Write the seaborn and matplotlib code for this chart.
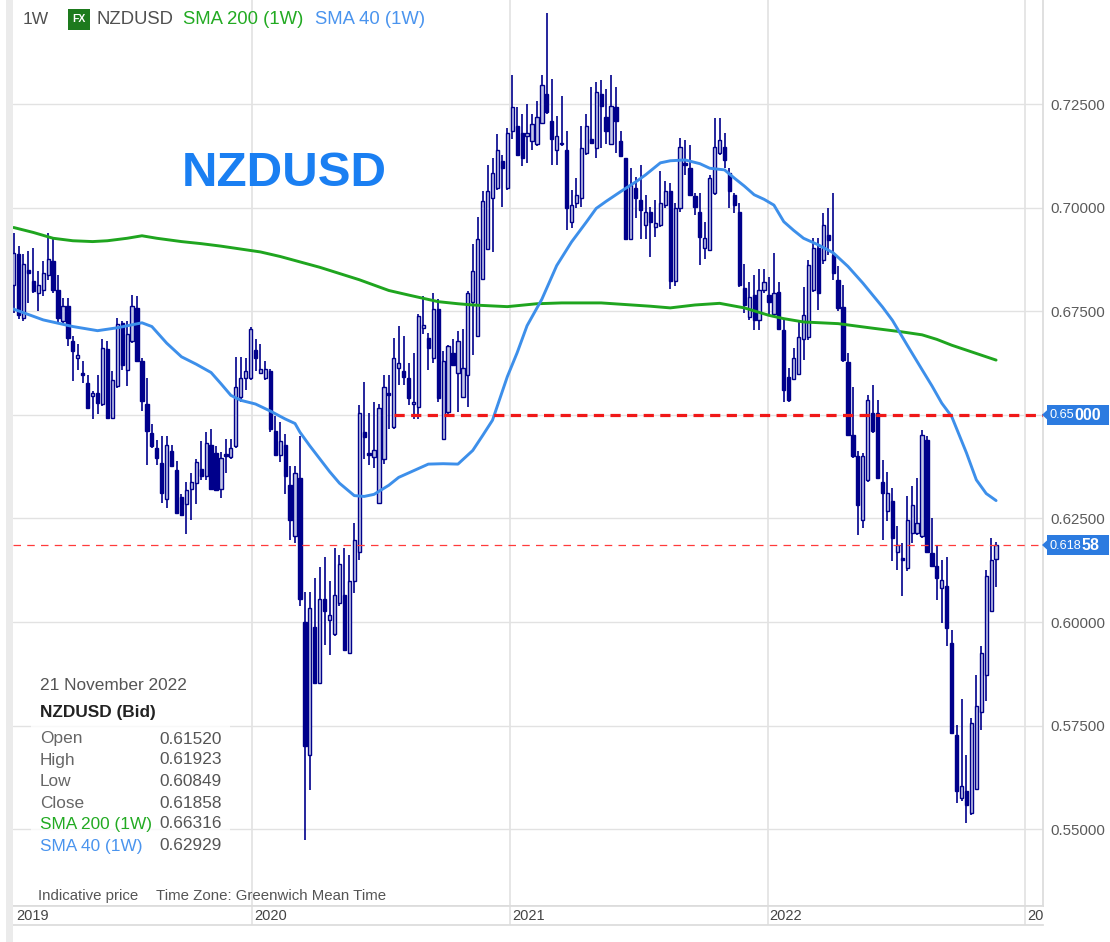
import numpy as np
import pandas as pd
import matplotlib
matplotlib.use("Agg")
import matplotlib.pyplot as plt
import matplotlib.dates as mdates
from matplotlib.patches import Rectangle, Polygon
import seaborn as sns

# ---------------- data ----------------
first_week = "2019-01-28"
opens = [
0.6814, 0.6887, 0.6734, 0.6850, 0.6822, 0.6794, 0.6802, 0.6838, 0.6871, 0.6802,
0.6726, 0.6762, 0.6678, 0.6637, 0.6601, 0.6577, 0.6545, 0.6553, 0.6525, 0.6658,
0.6493, 0.6569, 0.6722, 0.6609, 0.6678, 0.6758, 0.6629, 0.6525, 0.6457, 0.6420,
0.6384, 0.6296, 0.6412, 0.6368, 0.6301, 0.6284, 0.6322, 0.6335, 0.6369, 0.6352,
0.6428, 0.6407, 0.6320, 0.6404, 0.6399, 0.6424, 0.6543, 0.6589, 0.6589, 0.6657,
0.6602, 0.6589, 0.6606, 0.6462, 0.6403, 0.6428, 0.6331, 0.6208, 0.6348, 0.6000,
0.5679, 0.5988, 0.5852, 0.6055, 0.6005, 0.5971, 0.6047, 0.6064, 0.5924, 0.6098,
0.6168, 0.6458, 0.6407, 0.6398, 0.6287, 0.6393, 0.6552, 0.6470, 0.6613, 0.6605,
0.6588, 0.6527, 0.6519, 0.6710, 0.6686, 0.6637, 0.6755, 0.6442, 0.6507, 0.6649,
0.6601, 0.6544, 0.6596, 0.6771, 0.6690, 0.6828, 0.6901, 0.7023, 0.7047, 0.7112,
0.7047, 0.7185, 0.7197, 0.7181, 0.7173, 0.7161, 0.7153, 0.7205, 0.7274, 0.7209,
0.7140, 0.7153, 0.7140, 0.6966, 0.7010, 0.7023, 0.7132, 0.7165, 0.7144, 0.7274,
0.7218, 0.7153, 0.7242, 0.7161, 0.7120, 0.6925, 0.7047, 0.7019, 0.6958, 0.6990,
0.6954, 0.6958, 0.7006, 0.7039, 0.6824, 0.6998, 0.7107, 0.7095, 0.7027, 0.6990,
0.6902, 0.6898, 0.7035, 0.7131, 0.7147, 0.7083, 0.7031, 0.6990, 0.6805, 0.6736,
0.6789, 0.6728, 0.6801, 0.6789, 0.6744, 0.6797, 0.6704, 0.6591, 0.6587, 0.6599,
0.6684, 0.6688, 0.6801, 0.6902, 0.6873, 0.6934, 0.6886, 0.6825, 0.6760, 0.6628,
0.6452, 0.6400, 0.6247, 0.6343, 0.6504, 0.6504, 0.6339, 0.6267, 0.6291, 0.6170,
0.6154, 0.6130, 0.6215, 0.6215, 0.6207, 0.6440, 0.6166, 0.6134, 0.6082, 0.6086,
0.5949, 0.5728, 0.5575, 0.5591, 0.5539, 0.5596, 0.5784, 0.5873, 0.6026, 0.6152,
]
highs = [
0.6939, 0.6907, 0.6887, 0.6895, 0.6903, 0.6846, 0.6871, 0.6939, 0.6927, 0.6838,
0.6782, 0.6782, 0.6690, 0.6670, 0.6629, 0.6597, 0.6557, 0.6597, 0.6682, 0.6678,
0.6605, 0.6734, 0.6726, 0.6726, 0.6790, 0.6786, 0.6637, 0.6589, 0.6477, 0.6440,
0.6449, 0.6449, 0.6428, 0.6388, 0.6310, 0.6339, 0.6360, 0.6394, 0.6437, 0.6458,
0.6466, 0.6424, 0.6410, 0.6441, 0.6441, 0.6640, 0.6640, 0.6636, 0.6712, 0.6682,
0.6670, 0.6631, 0.6610, 0.6496, 0.6483, 0.6454, 0.6377, 0.6377, 0.6450, 0.6072,
0.6072, 0.6106, 0.6132, 0.6157, 0.6098, 0.6178, 0.6161, 0.6178, 0.6161, 0.6239,
0.6523, 0.6580, 0.6504, 0.6532, 0.6527, 0.6596, 0.6596, 0.6686, 0.6714, 0.6690,
0.6625, 0.6650, 0.6743, 0.6787, 0.6698, 0.6795, 0.6779, 0.6653, 0.6669, 0.6682,
0.6702, 0.6706, 0.6799, 0.6913, 0.6978, 0.7039, 0.7104, 0.7120, 0.7177, 0.7128,
0.7193, 0.7319, 0.7242, 0.7226, 0.7250, 0.7226, 0.7258, 0.7319, 0.7469, 0.7311,
0.7222, 0.7270, 0.7185, 0.7043, 0.7071, 0.7197, 0.7226, 0.7291, 0.7303, 0.7307,
0.7287, 0.7319, 0.7291, 0.7185, 0.7120, 0.7096, 0.7075, 0.7104, 0.7031, 0.7002,
0.7019, 0.7088, 0.7063, 0.7059, 0.7010, 0.7168, 0.7164, 0.7152, 0.7035, 0.7035,
0.6966, 0.7079, 0.7216, 0.7216, 0.7180, 0.7095, 0.7035, 0.7010, 0.6865, 0.6821,
0.6837, 0.6853, 0.6853, 0.6833, 0.6890, 0.6821, 0.6728, 0.6612, 0.6660, 0.6724,
0.6809, 0.6873, 0.6926, 0.6926, 0.6986, 0.6998, 0.7035, 0.6860, 0.6813, 0.6648,
0.6568, 0.6412, 0.6408, 0.6548, 0.6572, 0.6536, 0.6391, 0.6363, 0.6323, 0.6231,
0.6190, 0.6303, 0.6327, 0.6347, 0.6464, 0.6448, 0.6251, 0.6186, 0.6150, 0.6158,
0.5981, 0.5752, 0.5813, 0.5680, 0.5768, 0.5873, 0.5941, 0.6126, 0.6203, 0.61923,
]
lows = [
0.6745, 0.6730, 0.6726, 0.6770, 0.6794, 0.6750, 0.6786, 0.6826, 0.6794, 0.6718,
0.6718, 0.6666, 0.6581, 0.6609, 0.6577, 0.6513, 0.6489, 0.6501, 0.6521, 0.6489,
0.6489, 0.6565, 0.6609, 0.6569, 0.6674, 0.6629, 0.6509, 0.6380, 0.6420, 0.6380,
0.6288, 0.6276, 0.6376, 0.6260, 0.6255, 0.6212, 0.6246, 0.6284, 0.6343, 0.6343,
0.6322, 0.6318, 0.6300, 0.6360, 0.6394, 0.6420, 0.6530, 0.6560, 0.6585, 0.6606,
0.6602, 0.6585, 0.6458, 0.6403, 0.6386, 0.6310, 0.6199, 0.6191, 0.6039, 0.5475,
0.5594, 0.5852, 0.5852, 0.5945, 0.5920, 0.5967, 0.6039, 0.5933, 0.5924, 0.6070,
0.6150, 0.6393, 0.6379, 0.6372, 0.6285, 0.6381, 0.6466, 0.6466, 0.6572, 0.6572,
0.6523, 0.6491, 0.6491, 0.6694, 0.6609, 0.6625, 0.6531, 0.6438, 0.6503, 0.6617,
0.6507, 0.6540, 0.6519, 0.6645, 0.6690, 0.6828, 0.6897, 0.6893, 0.7043, 0.7002,
0.7043, 0.7165, 0.7124, 0.7100, 0.7108, 0.7140, 0.7149, 0.7201, 0.7226, 0.7104,
0.7104, 0.7149, 0.6946, 0.6950, 0.6998, 0.7002, 0.7128, 0.7153, 0.7120, 0.7144,
0.7153, 0.7153, 0.7132, 0.7124, 0.6925, 0.6925, 0.6974, 0.6925, 0.6925, 0.6881,
0.6929, 0.6954, 0.6998, 0.6803, 0.6810, 0.6990, 0.7079, 0.7027, 0.6982, 0.6861,
0.6877, 0.6898, 0.7031, 0.7127, 0.7095, 0.6998, 0.6986, 0.6809, 0.6745, 0.6728,
0.6704, 0.6704, 0.6793, 0.6744, 0.6736, 0.6708, 0.6531, 0.6531, 0.6583, 0.6599,
0.6632, 0.6680, 0.6797, 0.6753, 0.6865, 0.6886, 0.6825, 0.6750, 0.6628, 0.6452,
0.6395, 0.6211, 0.6227, 0.6339, 0.6456, 0.6347, 0.6199, 0.6243, 0.6146, 0.6126,
0.6062, 0.6122, 0.6190, 0.6211, 0.6203, 0.6166, 0.6134, 0.6054, 0.5998, 0.5941,
0.5732, 0.5563, 0.5567, 0.5515, 0.5535, 0.5596, 0.5740, 0.5809, 0.6026, 0.60849,
]
closes = [
0.6890, 0.6742, 0.6863, 0.6842, 0.6798, 0.6814, 0.6842, 0.6875, 0.6802, 0.6734,
0.6762, 0.6686, 0.6653, 0.6645, 0.6597, 0.6517, 0.6553, 0.6529, 0.6662, 0.6493,
0.6585, 0.6718, 0.6621, 0.6694, 0.6762, 0.6629, 0.6533, 0.6461, 0.6424, 0.6396,
0.6312, 0.6428, 0.6376, 0.6263, 0.6259, 0.6318, 0.6339, 0.6386, 0.6352, 0.6432,
0.6322, 0.6318, 0.6395, 0.6401, 0.6420, 0.6568, 0.6589, 0.6606, 0.6708, 0.6636,
0.6610, 0.6610, 0.6466, 0.6403, 0.6437, 0.6352, 0.6246, 0.6360, 0.6055, 0.5700,
0.6034, 0.5852, 0.6055, 0.6026, 0.6017, 0.6064, 0.6140, 0.5933, 0.6098, 0.6198,
0.6505, 0.6446, 0.6403, 0.6415, 0.6516, 0.6568, 0.6548, 0.6637, 0.6625, 0.6592,
0.6540, 0.6531, 0.6738, 0.6716, 0.6661, 0.6755, 0.6540, 0.6629, 0.6665, 0.6621,
0.6678, 0.6613, 0.6795, 0.6848, 0.6925, 0.7015, 0.7039, 0.7084, 0.7140, 0.7096,
0.7181, 0.7242, 0.7128, 0.7120, 0.7181, 0.7201, 0.7218, 0.7295, 0.7230, 0.7165,
0.7173, 0.7157, 0.6998, 0.7006, 0.7031, 0.7144, 0.7197, 0.7157, 0.7278, 0.7246,
0.7185, 0.7246, 0.7209, 0.7124, 0.6925, 0.7055, 0.7023, 0.6994, 0.6990, 0.6966,
0.6962, 0.7010, 0.7039, 0.6824, 0.6998, 0.7147, 0.7103, 0.7031, 0.7002, 0.6930,
0.6926, 0.7071, 0.7147, 0.7164, 0.7115, 0.7039, 0.7006, 0.6813, 0.6765, 0.6785,
0.6728, 0.6801, 0.6821, 0.6773, 0.6793, 0.6708, 0.6559, 0.6535, 0.6636, 0.6688,
0.6740, 0.6861, 0.6902, 0.6793, 0.6958, 0.6922, 0.6841, 0.6757, 0.6632, 0.6452,
0.6400, 0.6283, 0.6400, 0.6536, 0.6460, 0.6347, 0.6311, 0.6311, 0.6203, 0.6186,
0.6150, 0.6247, 0.6283, 0.6239, 0.6452, 0.6170, 0.6134, 0.6106, 0.6102, 0.5985,
0.5732, 0.5591, 0.5604, 0.5559, 0.5756, 0.5797, 0.5925, 0.6110, 0.6150, 0.61858,
]

sma40_weeks = [0, 6, 12, 17, 21, 26, 28, 31, 34, 37, 40, 42, 44, 46, 49, 52, 55, 57, 58, 60,
               62, 64, 66, 69, 71, 73, 76, 78, 81, 84, 87, 90, 93, 95, 97, 100, 102, 104,
               107, 110, 113, 116, 118, 120, 123, 126, 128, 131, 133, 136, 139, 141, 144,
               146, 148, 150, 152, 154, 156, 158, 160, 163, 166, 169, 172, 174, 176, 178,
               181, 184, 186, 188, 190, 193, 195, 197, 199]
sma40_vals = [0.6755, 0.6729, 0.6713, 0.6703, 0.6710, 0.6722, 0.6713, 0.6673, 0.6640, 0.6622,
              0.6602, 0.6575, 0.6547, 0.6535, 0.6526, 0.6509, 0.6490, 0.6479, 0.6458, 0.6425,
              0.6394, 0.6363, 0.6335, 0.6305, 0.6303, 0.6308, 0.6330, 0.6349, 0.6365, 0.6381,
              0.6382, 0.6381, 0.6414, 0.6450, 0.6487, 0.6592, 0.6650, 0.6715, 0.6779, 0.6860,
              0.6917, 0.6965, 0.6998, 0.7015, 0.7039, 0.7062, 0.7079, 0.7108, 0.7113, 0.7115,
              0.7106, 0.7095, 0.7091, 0.7071, 0.7052, 0.7031, 0.7020, 0.7006, 0.6966, 0.6945,
              0.6926, 0.6910, 0.6891, 0.6858, 0.6818, 0.6789, 0.6760, 0.6728, 0.6668, 0.6609,
              0.6570, 0.6528, 0.6496, 0.6408, 0.6343, 0.6310, 0.6293]
sma200_weeks = [0, 4, 8, 12, 16, 19, 23, 26, 29, 34, 38, 42, 46, 50, 54, 58, 62, 66, 70, 73,
                76, 80, 86, 90, 93, 100, 106, 111, 119, 124, 129, 133, 138, 143, 148, 153,
                156, 160, 167, 174, 180, 184, 187, 190, 195, 199]
sma200_vals = [0.6952, 0.6940, 0.6926, 0.6920, 0.6918, 0.6920, 0.6926, 0.6932, 0.6926, 0.6918,
               0.6913, 0.6907, 0.6900, 0.6893, 0.6882, 0.6869, 0.6856, 0.6841, 0.6826, 0.6813,
               0.6800, 0.6789, 0.6773, 0.6768, 0.6765, 0.6761, 0.6768, 0.6770, 0.6770, 0.6766,
               0.6762, 0.6758, 0.6765, 0.6769, 0.6758, 0.6740, 0.6732, 0.6724, 0.6720, 0.6709,
               0.6700, 0.6693, 0.6682, 0.6668, 0.6648, 0.6632]

y_ticks = [0.550, 0.575, 0.600, 0.625, 0.650, 0.675, 0.700, 0.725]
year_labels = ["2019", "2020", "2021", "2022", "2023"]
level_price = 0.65
level_start = "2020-07-21"
info_rows = [("Open", "0.61520"), ("High", "0.61923"), ("Low", "0.60849"),
             ("Close", "0.61858")]
sma200_last, sma40_last = "0.66316", "0.62929"

# ---------------- style ----------------
sns.set_theme(style="white")
plt.rcParams['font.family'] = ['Liberation Sans', 'DejaVu Sans']

W, H = 1110, 942
fig = plt.figure(figsize=(W / 100, H / 100), dpi=100)
fig.patch.set_facecolor("white")

def fxp(px):
    return px / W

def fyp(py):
    return 1 - py / H

NAVY = "#00008b"
LIGHT = "#c3c6e6"
GRID = "#e2e2e2"
GREEN = "#1fa51f"
BLUE = "#3d8fea"
RED = "#f01818"

ax = fig.add_axes([fxp(13), fyp(906), fxp(1043) - fxp(13), fyp(0) - fyp(906)])

ref = mdates.date2num(pd.Timestamp("2020-01-01"))
ppd = 0.7053  # pixels per day
xmin = ref + (13 - 252) / ppd
xmax = ref + (1043 - 252) / ppd
ax.set_xlim(xmin, xmax)
ax.set_ylim(0.725 - (906 - 104) / 4144, 0.725 + 104 / 4144)

dates = pd.date_range(first_week, periods=len(closes), freq="7D")
xd = mdates.date2num(dates.to_pydatetime())
o = np.array(opens); c = np.array(closes)
h = np.maximum(np.array(highs), np.maximum(o, c))
l = np.minimum(np.array(lows), np.minimum(o, c))

# grid
for yv in y_ticks:
    ax.axhline(yv, color=GRID, lw=1.0, zorder=0)
for yr in year_labels[1:]:
    ax.axvline(mdates.date2num(pd.Timestamp(f"{yr}-01-01")), color=GRID, lw=1.2, zorder=0)

# candles
ax.vlines(xd, l, h, color=NAVY, lw=1.2, zorder=2)
up = c >= o
body_lo = np.minimum(o, c)
body_h = np.maximum(np.abs(c - o), 0.00035)
ax.bar(xd[up], body_h[up], bottom=body_lo[up], width=4.6, color=LIGHT,
       edgecolor=NAVY, linewidth=1.0, zorder=3)
ax.bar(xd[~up], body_h[~up], bottom=body_lo[~up], width=4.6, color=NAVY,
       edgecolor=NAVY, linewidth=1.0, zorder=3)

# SMA lines
x0 = mdates.date2num(pd.Timestamp(first_week))
sns.lineplot(x=x0 + 7 * np.array(sma200_weeks), y=sma200_vals, ax=ax, color=GREEN,
             lw=2.1, sort=False, estimator=None, zorder=4,
             solid_joinstyle="round", solid_capstyle="round")
sns.lineplot(x=x0 + 7 * np.array(sma40_weeks), y=sma40_vals, ax=ax, color=BLUE,
             lw=2.1, sort=False, estimator=None, zorder=4,
             solid_joinstyle="round", solid_capstyle="round")

# horizontal levels
ax.hlines(level_price, mdates.date2num(pd.Timestamp(level_start)), xmax, colors=RED,
          lw=2.3, linestyles=(0, (3.2, 2.0)), zorder=5)
ax.hlines(closes[-1], xmin, xmax, colors="#ff3b3b", lw=0.9,
          linestyles=(0, (6, 5)), zorder=5)

# axes styling (the 0.65 label is covered by the price tag, as in the source)
ax.yaxis.tick_right()
ax.set_yticks(y_ticks)
ax.set_yticklabels(["" if abs(v - level_price) < 1e-9 else f"{v:.5f}" for v in y_ticks])
ax.tick_params(axis="y", length=0, pad=5, labelsize=10.8, labelcolor="#5a5a5a")
ax.set_xticks([])
for side in ["top", "left"]:
    ax.spines[side].set_visible(False)
ax.spines["right"].set_color("#dcdcdc")
ax.spines["bottom"].set_color("#dcdcdc")
ax.set_xlabel("")
ax.set_ylabel("")
ax.set_facecolor("white")

# label band
ax2 = fig.add_axes([fxp(13), fyp(925), fxp(1043) - fxp(13), (925 - 906) / H])
ax2.set_xlim(xmin, xmax)
ax2.set_ylim(0, 1)
ax2.set_xticks([]); ax2.set_yticks([])
for side in ["left", "right"]:
    ax2.spines[side].set_visible(False)
ax2.spines["top"].set_color("#dcdcdc")
ax2.spines["bottom"].set_color("#dcdcdc")
for yr in year_labels[1:]:
    xv = mdates.date2num(pd.Timestamp(f"{yr}-01-01"))
    ax2.axvline(xv, color=GRID, lw=1.2)
    ax2.text(xv + 2 / ppd, 0.45, yr, ha="left", va="center", fontsize=10.5,
             color="#444444", clip_on=True)
ax2.text(0.003, 0.45, year_labels[0], transform=ax2.transAxes, ha="left", va="center",
         fontsize=10.5, color="#444444")

# left gray bar
fig.patches.append(Rectangle((fxp(6), 0), fxp(7), 1, transform=fig.transFigure,
                             facecolor="#ebebeb", edgecolor="none", zorder=0))

def T(x, y, s, **kw):
    return fig.text(fxp(x), fyp(y), s, **kw)

# header
T(23, 19, "1W", fontsize=12.5, color="#505050", va="center")
fig.patches.append(Rectangle((fxp(68), fyp(30)), fxp(22), 21 / H, transform=fig.transFigure,
                             facecolor="#1d7a1d", edgecolor="none", zorder=3))
T(79, 19.5, "FX", fontsize=7.5, color="white", fontweight="bold", ha="center", va="center",
  zorder=4)
T(97, 19, "NZDUSD", fontsize=13.3, color="#505050", va="center")
T(183, 19, "SMA 200 (1W)", fontsize=13.3, color="#22aa22", va="center")
T(315, 19, "SMA 40 (1W)", fontsize=13.3, color="#4a94ee", va="center")

# big title
T(182, 174, "NZDUSD", fontsize=35.5, color="#1a7ff2", fontweight="bold", va="center")

# info box
fig.patches.append(Rectangle((fxp(31), fyp(862)), fxp(199), 195 / H, transform=fig.transFigure,
                             facecolor="white", alpha=0.78, edgecolor="none", zorder=2))
FS = 12.4
T(40, 685, "21 November 2022", fontsize=FS, color="#555555", va="center", zorder=3)
T(40, 712, "NZDUSD (Bid)", fontsize=FS, color="#222222", fontweight="bold", va="center",
  zorder=3)
row_y = [739, 760, 782, 803]
for (lab, val), yy in zip(info_rows, row_y):
    T(40, yy, lab, fontsize=FS, color="#666666", va="center", zorder=3)
    T(222, yy, val, fontsize=FS, color="#555555", va="center", ha="right", zorder=3)
T(40, 824, "SMA 200 (1W)", fontsize=FS, color="#22aa22", va="center", zorder=3)
T(222, 824, sma200_last, fontsize=FS, color="#555555", va="center", ha="right", zorder=3)
T(40, 846, "SMA 40 (1W)", fontsize=FS, color="#4a94ee", va="center", zorder=3)
T(222, 846, sma40_last, fontsize=FS, color="#555555", va="center", ha="right", zorder=3)

T(38, 896, "Indicative price", fontsize=10.8, color="#555555", va="center")
T(156, 896, "Time Zone: Greenwich Mean Time", fontsize=10.8, color="#555555", va="center")

# price tags on the right
renderer = fig.canvas.get_renderer()

def tag(yc, small, big):
    fig.patches.append(Rectangle((fxp(1047), fyp(yc + 10)), fxp(62), 20 / H,
                                 transform=fig.transFigure, facecolor="#2c7be0",
                                 edgecolor="none", zorder=5))
    fig.patches.append(Polygon([(fxp(1042), fyp(yc)), (fxp(1047.5), fyp(yc - 5)),
                                (fxp(1047.5), fyp(yc + 5))], closed=True,
                               transform=fig.transFigure, facecolor="#2c7be0",
                               edgecolor="none", zorder=5))
    t1 = fig.text(fxp(1049), fyp(yc + 0.5), small, fontsize=9.2, color="white",
                  va="center", zorder=6)
    bb = t1.get_window_extent(renderer)
    fig.text(bb.x1 / fig.bbox.width + fxp(0.5), fyp(yc + 0.5), big, fontsize=11.5,
             color="white", fontweight="bold", va="center", zorder=6)

y_of = lambda v: 104 + (0.725 - v) * 4144
tag(y_of(level_price), "0.65", "000")
tag(y_of(closes[-1]), "0.618", "58")

fig.savefig("out.png", dpi=100, facecolor="white")
